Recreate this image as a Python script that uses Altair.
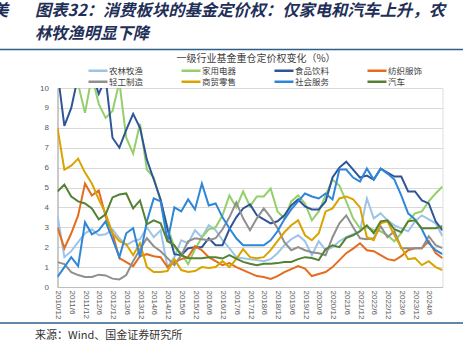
import altair as alt
import pandas as pd

periods = [
    "2010/12", "2011/3", "2011/6", "2011/9", "2011/12", "2012/3", "2012/6", "2012/9", "2012/12",
    "2013/3", "2013/6", "2013/9", "2013/12", "2014/3", "2014/6", "2014/9", "2014/12",
    "2015/3", "2015/6", "2015/9", "2015/12", "2016/3", "2016/6", "2016/9", "2016/12",
    "2017/3", "2017/6", "2017/9", "2017/12", "2018/3", "2018/6", "2018/9", "2018/12",
    "2019/3", "2019/6", "2019/9", "2019/12", "2020/3", "2020/6", "2020/9", "2020/12",
    "2021/3", "2021/6", "2021/9", "2021/12", "2022/3", "2022/6", "2022/9", "2022/12",
    "2023/3", "2023/6", "2023/9", "2023/12", "2024/3", "2024/6", "2024/9", "2024/12",
]
tick_labels = [
    "2010/12", "2011/6", "2011/12", "2012/6", "2012/12", "2013/6", "2013/12", "2014/6",
    "2014/12", "2015/6", "2015/12", "2016/6", "2016/12", "2017/6", "2017/12", "2018/6",
    "2018/12", "2019/6", "2019/12", "2020/6", "2020/12", "2021/6", "2021/12", "2022/6",
    "2022/12", "2023/6", "2023/12", "2024/6",
]

series_names = ["农林牧渔", "家用电器", "食品饮料", "纺织服饰", "轻工制造", "商贸零售", "社会服务", "汽车"]
series_colors = ["#9DC3E6", "#93CF6B", "#2F5597", "#E46C1E", "#8F8F8F", "#D9A300", "#2E86D8", "#548235"]

agri = [3.6, 1.5, 1.8, 2.25, 2.7, 2.9, 2.6, 2.65, 2.9, 2.45,
        2.1, 2.3, 2.4, 3.0, 2.5, 2.85, 1.0, 1.5, 2.35, 2.2,
        2.85, 2.5, 3.1, 2.85, 2.35, 1.95, 1.5, 1.45, 1.4, 1.35,
        1.3, 1.4, 1.7, 2.1, 2.4, 2.6, 2.3, 1.6, 2.3, 1.85,
        2.0, 2.3, 2.5, 2.65, 2.8, 4.45, 3.45, 3.7, 3.35, 3.1,
        2.95, 2.8, 3.3, 3.6, 3.4, 3.2, 2.55]
appliance = [11.0, 12.0, 11.0, 10.2, 8.75, 10.6, 9.2, 8.5, 8.85, 10.3,
             7.5, 6.7, 8.2, 5.9, 5.5, 4.3, 3.0, 2.0, 1.7, 1.15,
             1.9, 2.5, 2.9, 3.0, 3.6, 4.6, 4.0, 4.8, 4.05, 4.55,
             4.55, 4.95, 3.8, 3.45, 4.3, 4.6, 4.2, 3.35, 3.8, 4.6,
             5.4, 5.1, 4.3, 3.45, 2.95, 3.0, 2.85, 2.8, 2.6, 2.3,
             2.7, 3.3, 3.7, 3.8, 4.3, 4.7, 5.05]
food = [10.8, 8.1, 9.0, 10.6, 11.5, 10.8, 9.7, 10.5, 7.5, 7.0,
        7.9, 8.7, 8.0, 6.4, 5.4, 4.4, 2.9, 1.65, 1.6, 1.95,
        2.0, 2.0, 2.45, 2.1, 2.1, 2.9, 3.5, 3.95, 4.15, 3.6,
        3.4, 3.2, 3.3, 3.6, 4.1, 4.4, 4.05, 3.9, 3.9, 4.3,
        5.5, 6.0, 6.3, 5.9, 5.5, 5.6, 5.4, 5.95, 5.75, 5.55,
        5.55, 4.8, 4.8, 4.35, 4.2, 3.3, 2.85]
textile = [3.0, 1.95, 2.7, 3.6, 5.2, 4.6, 4.85, 3.55, 2.7, 1.45,
           1.25, 1.05, 1.55, 1.65, 1.55, 1.5, 1.0, 1.25, 1.4, 1.5,
           2.05, 1.85, 1.5, 1.3, 1.1, 1.2, 1.0, 0.85, 0.7, 0.55,
           0.5, 0.4, 0.55, 0.75, 0.9, 1.05, 0.93, 0.55, 0.65, 0.75,
           1.0, 1.35, 1.7, 1.93, 2.2, 1.85, 1.8, 1.6, 1.4, 1.33,
           1.55, 1.85, 1.95, 1.95, 2.3, 1.7, 1.45]
light_ind = [1.25, 1.15, 0.75, 0.6, 0.5, 0.5, 0.62, 0.58, 0.42, 0.38,
             0.6, 1.3, 1.9, 2.45, 2.05, 1.8, 1.45, 1.1, 1.6, 2.3,
             2.45, 2.4, 2.35, 2.45, 2.9, 3.5, 4.25, 3.45, 2.85, 3.45,
             3.95, 3.5, 2.95, 2.25, 1.85, 2.0, 1.85, 1.75, 1.7, 1.6,
             2.5, 3.2, 3.6, 3.0, 2.45, 2.4, 2.45, 3.05, 2.5, 2.8,
             1.95, 1.95, 1.95, 1.95, 2.55, 2.1, 1.95]
retail = [8.0, 5.9, 6.1, 6.45, 5.75, 5.2, 4.4, 3.7, 2.7, 2.3,
          2.15, 1.6, 2.2, 1.0, 0.75, 0.75, 0.8, 1.4, 0.85, 0.75,
          0.8, 1.0, 0.95, 1.0, 1.3, 1.0, 1.4, 1.9, 1.5, 1.45,
          1.5, 1.85, 2.3, 2.75, 3.1, 3.35, 2.6, 2.35, 2.7, 3.8,
          3.95, 4.45, 4.55, 4.4, 4.0, 2.5, 2.35, 3.2, 3.3, 2.6,
          2.0, 1.4, 1.45, 1.1, 1.3, 1.0, 0.85]
social = [0.5, 1.0, 1.5, 1.05, 3.25, 2.65, 2.85, 3.3, 2.4, 1.5,
          2.7, 2.95, 1.5, 3.3, 4.45, 4.3, 2.3, 4.0, 3.8, 4.4,
          3.9, 5.2, 4.1, 4.2, 3.5, 2.95, 2.45, 2.1, 2.1, 2.1,
          2.1, 2.35, 2.8, 3.4, 3.9, 4.3, 4.7, 4.55, 4.45, 4.7,
          4.4, 5.9, 5.9, 5.5, 5.3, 5.95, 5.4, 5.95, 5.7, 5.4,
          4.6, 3.7, 3.4, 2.9, 2.2, 1.85, 1.65]
auto = [4.8, 5.15, 4.55, 4.3, 4.2, 3.95, 3.4, 3.65, 4.5, 4.65,
        4.7, 3.95, 4.35, 3.15, 3.35, 3.2, 2.3, 2.1, 1.6, 1.45,
        1.45, 1.45, 1.5, 1.5, 1.43, 1.6, 1.43, 1.26, 1.17, 1.1,
        1.17, 1.17, 1.2, 1.26, 1.26, 1.4, 1.5, 1.46, 1.35, 1.9,
        2.1, 2.0, 2.47, 2.6, 2.8, 3.1, 2.7, 3.3, 3.35, 2.9,
        2.75, 3.3, 3.35, 2.95, 2.95, 2.95, 3.05]

all_series = [agri, appliance, food, textile, light_ind, retail, social, auto]

rows = []
for name, vals in zip(series_names, all_series):
    for p, v in zip(periods, vals):
        rows.append({"period": p, "series": name, "value": v})
df = pd.DataFrame(rows)

CJK = "Noto Sans CJK SC"
LEFT, TOP = 57.5, 88

lines = alt.Chart(df).mark_line(strokeWidth=2, clip=True).encode(
    x=alt.X("period:O", sort=periods, scale=alt.Scale(type="point", padding=0),
            axis=alt.Axis(values=tick_labels, title=None, labelAngle=90, labelFontSize=8,
                          labelFont="Liberation Sans", labelColor="#595959", labelPadding=3,
                          tickSize=0, domainColor="#BFBFBF", grid=False)),
    y=alt.Y("value:Q", scale=alt.Scale(domain=[0, 10], nice=False),
            axis=alt.Axis(values=list(range(0, 11)), title=None, labelFontSize=8,
                          labelFont="Liberation Sans", labelColor="#595959", labelPadding=9,
                          tickSize=0, domainColor="#A6A6A6", gridColor="#D9D9D9", gridWidth=1)),
    color=alt.Color("series:N", sort=series_names,
                    scale=alt.Scale(domain=series_names, range=series_colors),
                    legend=alt.Legend(orient="none", legendX=29.5, legendY=-22.8, columns=4,
                                      direction="horizontal", symbolType="stroke", symbolSize=361,
                                      symbolStrokeWidth=2.5, labelFont=CJK, labelFontSize=8.5,
                                      labelColor="#404040", clipHeight=11, rowPadding=0,
                                      columnPadding=36, labelOffset=0, padding=0, title=None)),
)

blank = alt.Data(values=[{}])

def text(t, x, y, size, **kw):
    return alt.Chart(blank).mark_text(text=t, fontSize=size, font=CJK, **kw).encode(
        x=alt.value(x - LEFT), y=alt.value(y - TOP))

def hrule(y, color, w):
    return alt.Chart(blank).mark_rule(color=color, strokeWidth=w).encode(
        x=alt.value(-LEFT), x2=alt.value(463 - LEFT), y=alt.value(y - TOP))

title_color = "#1F2F57"
layers = [
    lines,
    text("美", -8, 11, 16.3, align="left", baseline="middle", fontWeight="bold", fontStyle="italic", color=title_color),
    text("图表32：消费板块的基金定价权：仅家电和汽车上升，农", 35, 11, 16.3, align="left", baseline="middle",
         fontWeight="bold", fontStyle="italic", color=title_color),
    text("林牧渔明显下降", 35, 34, 16.3, align="left", baseline="middle",
         fontWeight="bold", fontStyle="italic", color=title_color),
    hrule(49.5, "#2E5F8A", 1.5),
    text("一级行业基金重仓定价权变化（%）", 256, 59, 10, align="center", baseline="middle", color="#404040"),
    hrule(323, "#2E5F8A", 1.5),
    text("来源：Wind、国金证券研究所", 35, 336, 11, align="left", baseline="middle", color="#333333"),
]

chart = alt.layer(*layers).properties(
    width=442.5 - LEFT, height=287 - TOP,
    autosize=alt.AutoSizeParams(type="none"),
    padding={"left": LEFT, "top": TOP, "right": 463 - 442.5, "bottom": 347 - 287},
).configure_view(stroke=None).configure(background="white")

chart.save("out.html", embed_options={"renderer": "svg", "actions": False})
